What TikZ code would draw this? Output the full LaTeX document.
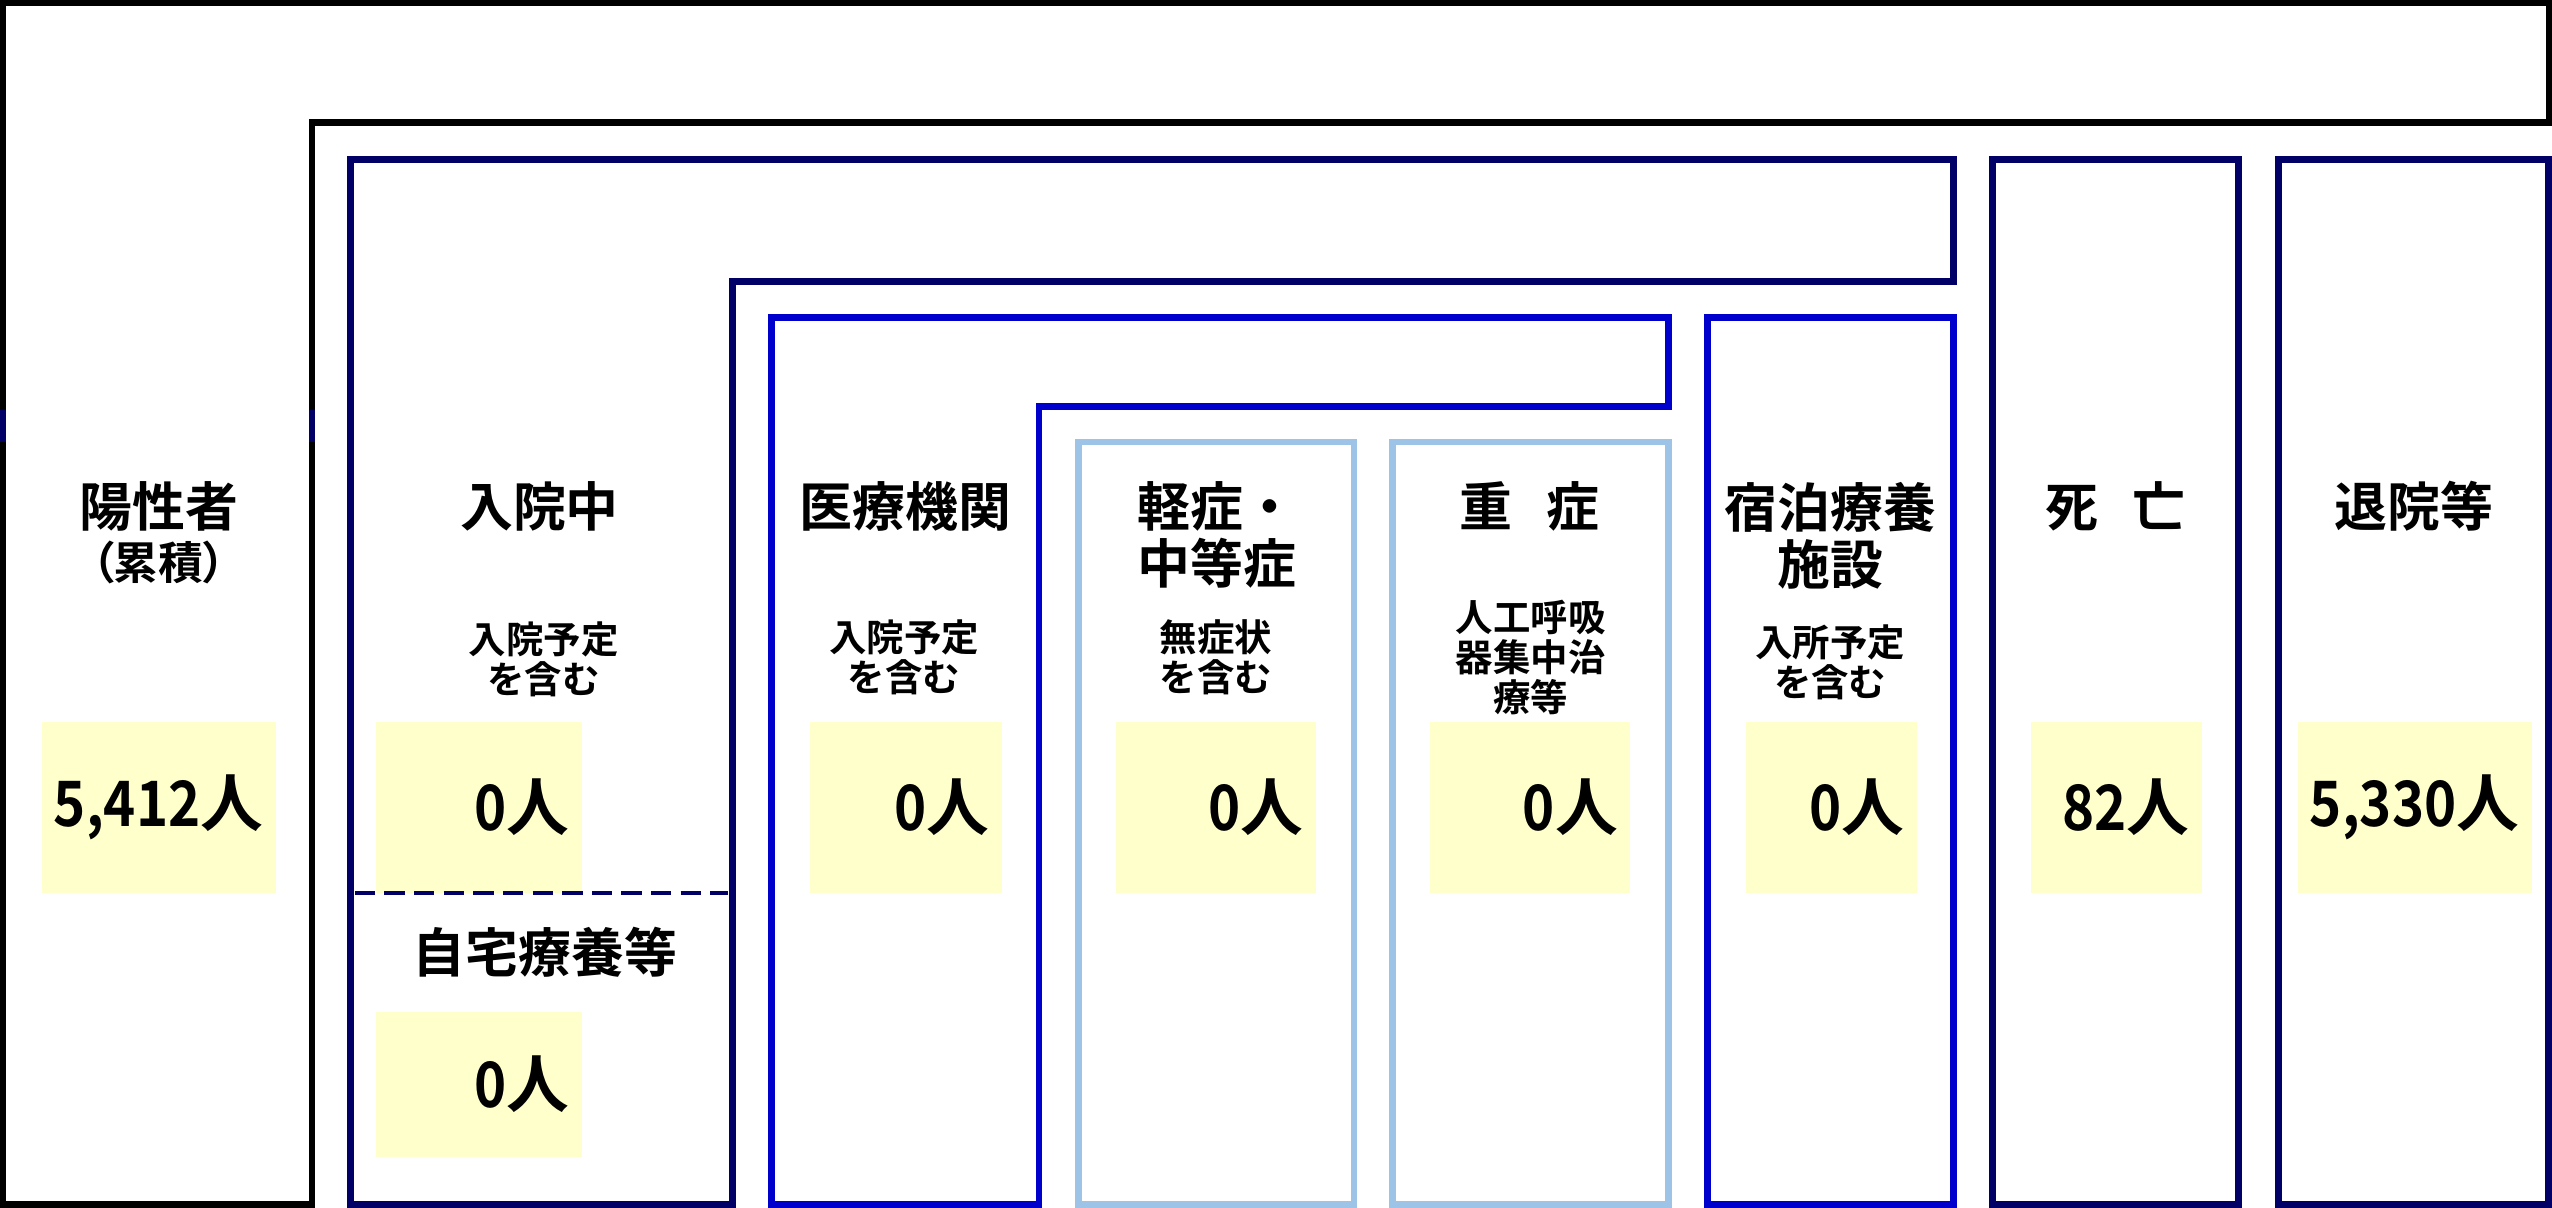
\documentclass[tikz,border=0pt]{standalone}
\usepackage{fontspec}
\setmainfont{Noto Sans CJK JP}[BoldFont={* Bold}]
\newfontfamily\numf{Noto Sans CJK JP}[BoldFont={* Bold}, BoldFeatures={FakeStretch=0.87}]
\definecolor{navy}{HTML}{000066}
\definecolor{mblue}{HTML}{0000CC}
\definecolor{lblue}{HTML}{9DC3E6}
\definecolor{yel}{HTML}{FFFFCC}
\begin{document}
\begin{tikzpicture}[x=1pt,y=-1pt,
  frm/.style={line width=4.2pt, line join=miter},
  blk/.style={frm, draw=black, line width=3.9pt},
  nav/.style={frm, draw=navy},
  blu/.style={frm, draw=mblue},
  lbl/.style={frm, draw=lblue, line width=4pt},
  lab/.style={font=\bfseries\fontsize{32.5}{35}\selectfont, align=center, inner sep=0pt},
  sublab/.style={font=\bfseries\fontsize{23}{24.6}\selectfont, align=center, inner sep=0pt},
  num/.style={font=\bfseries\fontsize{38.5}{40}\selectfont, inner sep=0pt, anchor=east},
  ybox/.style={fill=yel, draw=none, inner sep=0pt, outer sep=0pt, anchor=north west}]
\fill[white] (0,0) rectangle (1568,742.2);
\useasboundingbox (0,0) rectangle (1568,742.2);

% frames
\draw[blk] (1.9,740) -- (1.9,1.9) -- (1566,1.9) -- (1566,75.2) -- (191.7,75.2) -- (191.7,740) -- cycle;
\draw[nav] (215.5,97.8) -- (1200.5,97.8) -- (1200.5,173) -- (449.8,173) -- (449.8,740) -- (215.5,740) -- cycle;
\draw[blu] (474,195) -- (1025,195) -- (1025,250) -- (638.4,250) -- (638.4,740) -- (474,740) -- cycle;
\draw[lbl] (662.5,271.5) rectangle (832,740);
\draw[lbl] (855.6,271.5) rectangle (1025,740);
\draw[blu] (1049,195) rectangle (1200,740);
\draw[nav] (1224.4,97.8) rectangle (1375.6,740);
\draw[nav] (1399.7,97.8) rectangle (1565.9,740);
\draw[navy, line width=3.9pt] (1.9,251.6) -- (1.9,271.6);
\draw[navy, line width=3.9pt] (191.7,251.6) -- (191.7,271.6);

% yellow boxes
\node[ybox, minimum width=143.6pt, minimum height=105.1pt] (y1) at (25.7,443.6) {};
\node[ybox, minimum width=126pt, minimum height=105.1pt] (y2) at (231.3,443.6) {};
\node[ybox, minimum width=118pt, minimum height=105.1pt] (y3) at (497.5,443.6) {};
\node[ybox, minimum width=122.8pt, minimum height=105.1pt] (y4) at (685.8,443.6) {};
\node[ybox, minimum width=122.9pt, minimum height=105.1pt] (y5) at (878.8,443.6) {};
\node[ybox, minimum width=105.1pt, minimum height=105.1pt] (y6) at (1072.8,443.6) {};
\node[ybox, minimum width=105.2pt, minimum height=105.1pt] (y7) at (1247.7,443.6) {};
\node[ybox, minimum width=143.6pt, minimum height=105.1pt] (y8) at (1411.8,443.6) {};
\node[ybox, minimum width=126pt, minimum height=89.1pt] (y9) at (231.3,621.6) {};

% dashed divider
\coordinate (dA) at (218,548.7);
\coordinate (dB) at (447.5,548.7);
\draw[navy, line width=2.7pt, dash pattern=on 12.5pt off 5.7pt] (dA) -- (dB);

% numbers
\node[num] (v1) at ([xshift=-7.5pt]y1.east) {{\numf 5,412}人};
\node[num] (v2) at ([xshift=-7.5pt]y2.east) {{\numf 0}人};
\node[num] (v3) at ([xshift=-7.5pt]y3.east) {{\numf 0}人};
\node[num] (v4) at ([xshift=-7.5pt]y4.east) {{\numf 0}人};
\node[num] (v5) at ([xshift=-7.5pt]y5.east) {{\numf 0}人};
\node[num] (v6) at ([xshift=-7.5pt]y6.east) {{\numf 0}人};
\node[num] (v7) at ([xshift=-7.5pt]y7.east) {{\numf 82}人};
\node[num] (v8) at ([xshift=-7.5pt]y8.east) {{\numf 5,330}人};
\node[num] (v9) at ([xshift=-7.5pt]y9.east) {{\numf 0}人};

% main labels
\node[lab] (t1) at (97.5,311) {陽性者};
\node[font=\bfseries\fontsize{27.5}{30}\selectfont\addfontfeature{RawFeature=+palt}, inner sep=0pt] (t1b) at (97.5,345.5) {（累積）};
\node[lab] (t2) at (331.5,311) {入院中};
\node[lab] (t3) at (556.5,311) {医療機関};
\node[lab] (t4) at (747.5,328.5) {軽症・\\中等症};
\node[lab] (t5) at (940,311) {\spaceskip=21pt 重 症};
\node[lab] (t6) at (1124.6,329) {宿泊療養\\施設};
\node[lab] (t7) at (1300,311) {\spaceskip=21pt 死 亡};
\node[lab] (t8) at (1483,311) {退院等};
\node[lab] (t9) at (335,585) {自宅療養等};

% sub labels
\node[sublab] (s2) at (334,405) {入院予定\\を含む};
\node[sublab] (s3) at (555.5,404) {入院予定\\を含む};
\node[sublab] (s4) at (747,404) {無症状\\を含む};
\node[sublab] (s5) at (940.5,404) {人工呼吸\\器集中治\\療等};
\node[sublab] (s6) at (1124.5,407) {入所予定\\を含む};
\end{tikzpicture}
\end{document}
